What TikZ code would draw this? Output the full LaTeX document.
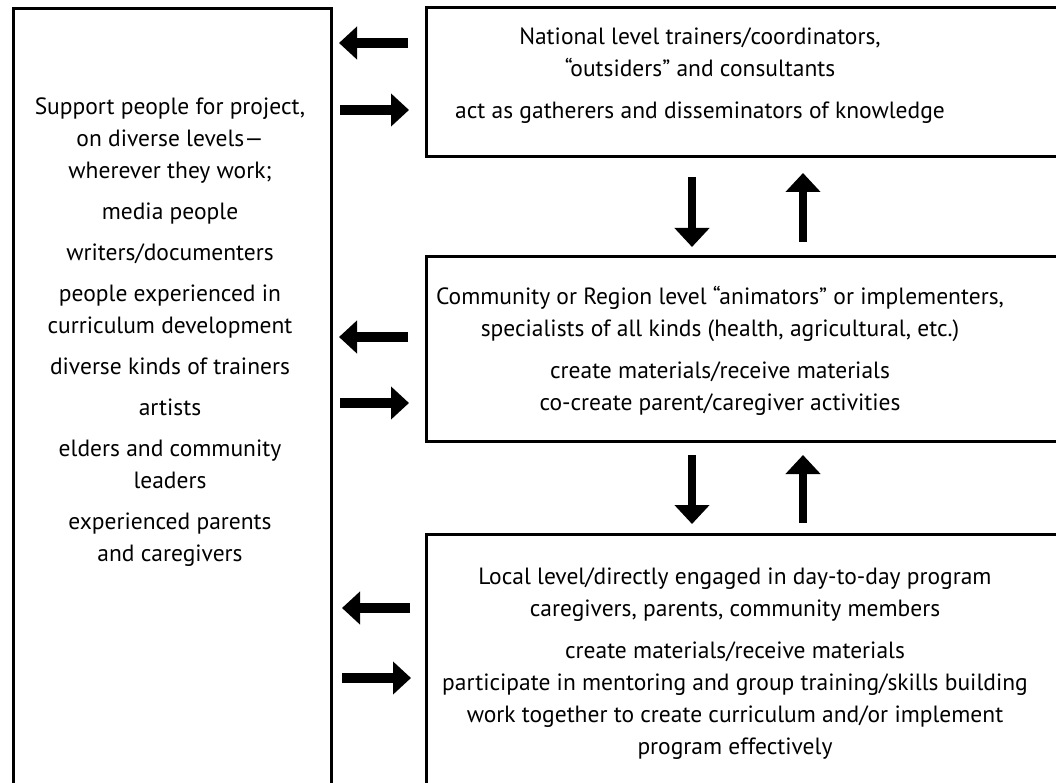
\documentclass[tikz,border=0pt]{standalone}
\usepackage{fontspec}
\setmainfont{PT Sans}
\usetikzlibrary{arrows.meta}
\begin{document}
\begin{tikzpicture}[x=1pt,y=-1pt,
  box/.style={draw=black, line width=3.2pt, inner sep=0pt, anchor=north west},
  txt/.style={inner sep=0pt, anchor=north, align=center, font=\fontsize{23.5}{32}\selectfont},
  harrow/.style={line width=9.5pt, -{Triangle[width=32pt,length=18pt]}},
  varrow/.style={line width=8.5pt, -{Triangle[width=34pt,length=19pt]}}
]
\useasboundingbox (0,0) rectangle (1056,783);
\clip (0,0) rectangle (1056,783);
\fill[white] (0,0) rectangle (1056,783);

% boxes
\node[box, minimum width=318pt, minimum height=820pt] (support) at (12,7) {};
\node[box, minimum width=660pt, minimum height=149pt] (national) at (425,6) {};
\node[box, minimum width=660pt, minimum height=185pt] (community) at (425,255) {};
\node[box, minimum width=660pt, minimum height=300pt] (local) at (425,533) {};

% texts
\node[txt] (supporttxt) at (170,91.6) {\strut Support people for project,\\\strut on diverse levels---\\\strut wherever they work;\\[9pt]
\strut media people\\[9pt]\strut writers/documenters\\[9pt]\strut people experienced in\\\strut curriculum development\\[9pt]
\strut diverse kinds of trainers\\[9pt]\strut artists\\[9pt]\strut elders and community\\\strut leaders\\[9pt]
\strut experienced parents\\\strut and caregivers};
\node[txt] (nattxt) at (700,21.6) {\strut National level trainers/coordinators,\\\strut ``outsiders'' and consultants\\[10pt]
\strut act as gatherers and disseminators of knowledge};
\node[txt] (comtxt) at (720,281.6) {\strut Community or Region level ``animators'' or implementers,\\\strut specialists of all kinds (health, agricultural, etc.)\\[10pt]
\strut create materials/receive materials\\\strut co-create parent/caregiver activities};
\node[txt] (loctxt) at (735,561.6) {\strut Local level/directly engaged in day-to-day program\\\strut caregivers, parents, community members\\[10pt]
\strut create materials/receive materials\\\strut participate in mentoring and group training/skills building\\\strut work together to create curriculum and/or implement\\\strut program effectively};

% horizontal arrows
\coordinate (a1s) at (408,43);  \coordinate (a1e) at (339,43);
\coordinate (a2s) at (340,110); \coordinate (a2e) at (409,110);
\coordinate (a3s) at (408,337); \coordinate (a3e) at (339,337);
\coordinate (a4s) at (340,403); \coordinate (a4e) at (409,403);
\coordinate (a5s) at (410,608); \coordinate (a5e) at (342,608);
\coordinate (a6s) at (342,678); \coordinate (a6e) at (411,678);
\draw[harrow] (a1s) -- (a1e);
\draw[harrow] (a2s) -- (a2e);
\draw[harrow] (a3s) -- (a3e);
\draw[harrow] (a4s) -- (a4e);
\draw[harrow] (a5s) -- (a5e);
\draw[harrow] (a6s) -- (a6e);

% vertical arrows
\coordinate (v1s) at (692,177); \coordinate (v1e) at (692,247);
\coordinate (v2s) at (803,242); \coordinate (v2e) at (803,173);
\coordinate (v3s) at (692,455); \coordinate (v3e) at (692,524);
\coordinate (v4s) at (803,523); \coordinate (v4e) at (803,455);
\draw[varrow] (v1s) -- (v1e);
\draw[varrow] (v2s) -- (v2e);
\draw[varrow] (v3s) -- (v3e);
\draw[varrow] (v4s) -- (v4e);
\end{tikzpicture}
\end{document}
